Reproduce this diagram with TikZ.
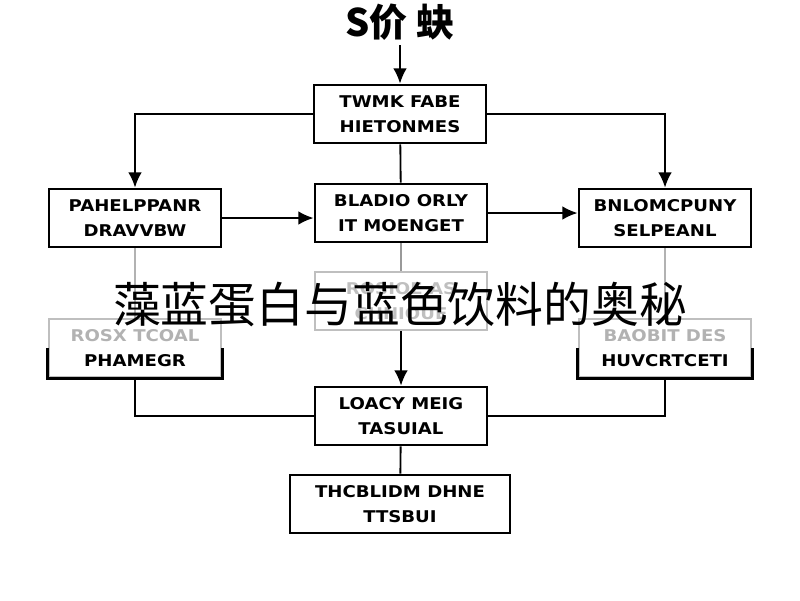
\documentclass[tikz,border=0pt]{standalone}
\usepackage{fontspec}
\usepackage{tikz}
\usetikzlibrary{arrows.meta}
\newfontfamily\cjk{Noto Sans CJK SC}
\newfontfamily\boxfont[FakeStretch=1.12]{DejaVu Sans}

\begin{document}
\begin{tikzpicture}[x=0.025cm, y=-0.025cm,
		stage/.style={draw, line width=2pt, minimum width=4.3cm, minimum height=1.45cm, align=center, inner sep=0pt, font=\boxfont\bfseries\fontsize{11.5}{17.5}\selectfont},
		faded/.style={stage, draw=black!25},
		link/.style={line width=1.3pt},
		flow/.style={link, -{Latex[length=3.8mm, width=3.4mm]}}]
		\useasboundingbox (0, 0) rectangle (800, 600);
		\node[font=\cjk\bfseries\fontsize{27}{30}\selectfont] (title) at (400, 22) {S价 蚗};
		\node[stage] (hist) at (400, 114) {TWMK FABE\\HIETONMES};
		\node[stage] (left1) at (135, 218) {PAHELPPANR\\DRAVVBW};
		\node[stage] (mid1) at (401, 213) {BLADIO ORLY\\IT MOENGET};
		\node[stage] (right1) at (665, 218) {BNLOMCPUNY\\SELPEANL};
		\node[faded] (left2) at (135, 348) {\textcolor{black!30}{ROSX TCOAL}\\PHAMEGR};
		\node[faded] (mid2) at (401, 301) {\textcolor{black!25}{ROSIOE AS}\\\textcolor{black!25}{CHNIOUE}};
		\node[faded] (right2) at (665, 348) {\textcolor{black!30}{BAOBIT DES}\\HUVCRTCETI};
		\node[stage] (low) at (401, 416) {LOACY MEIG\\TASUIAL};
		\node[stage, minimum width=5.5cm] (final) at (400, 504) {THCBLIDM DHNE\\TTSBUI};
		\draw[line width=2pt] (left2.west) -- (left2.south west) -- (left2.south east) -- (left2.east);
		\draw[line width=2pt] (right2.west) -- (right2.south west) -- (right2.south east) -- (right2.east);
		\draw[flow] (title) -- (hist);
		\draw[flow] (hist.west) -| (left1.north);
		\draw[flow] (hist.east) -| (right1.north);
		\draw[link] (hist) -- (mid1);
		\draw[flow] (left1.east) -- (left1.east -| mid1.west);
		\draw[flow] (mid1.east) -- (mid1.east -| right1.west);
		\draw[link, black!30] (left1) -- (left2);
		\draw[link, black!30] (right1) -- (right2);
		\draw[link, black!40] (mid1) -- (mid2);
		\draw[flow] (mid2) -- (low);
		\draw[link] (left2.south) |- (low.west);
		\draw[link] (right2.south) |- (low.east);
		\draw[link] (low) -- (final);
		\node[font=\cjk\fontsize{34}{40}\selectfont] (banner) at (400, 305) {藻蓝蛋白与蓝色饮料的奥秘};
\end{tikzpicture}
\end{document}
